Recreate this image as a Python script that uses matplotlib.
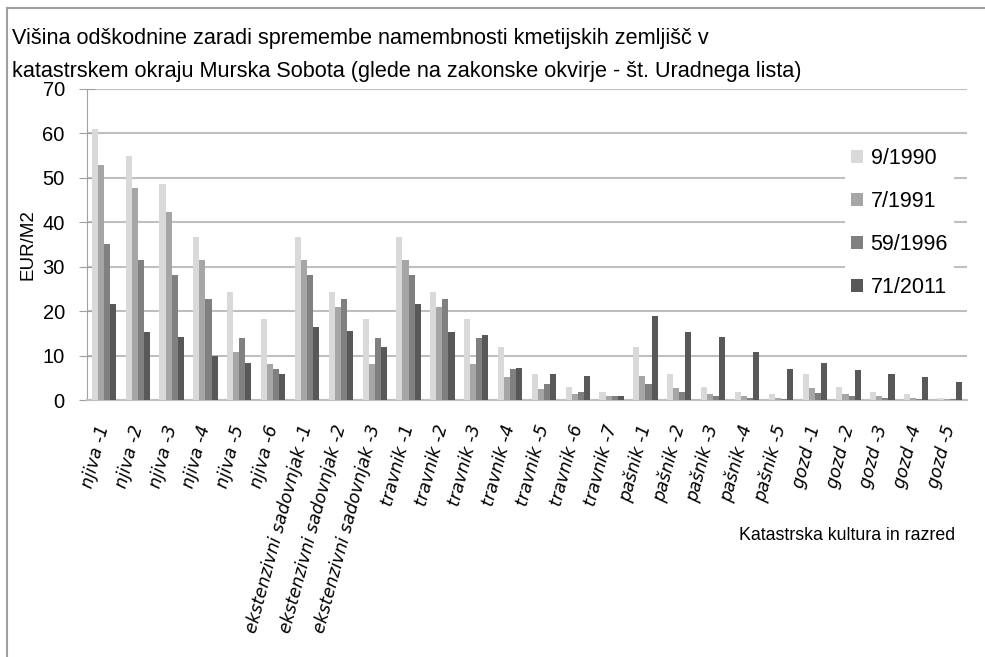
import matplotlib.pyplot as plt
import numpy as np
from matplotlib.lines import Line2D

categories = ["njiva -1", "njiva -2", "njiva -3", "njiva -4", "njiva -5", "njiva -6",
              "ekstenzivni sadovnjak -1", "ekstenzivni sadovnjak -2", "ekstenzivni sadovnjak -3",
              "travnik -1", "travnik -2", "travnik -3", "travnik -4", "travnik -5", "travnik -6",
              "travnik -7", "pašnik -1", "pašnik -2", "pašnik -3", "pašnik -4", "pašnik -5",
              "gozd -1", "gozd -2", "gozd -3", "gozd -4", "gozd -5"]
series_names = ["9/1990", "7/1991", "59/1996", "71/2011"]
s_1990 = [61.0, 54.9, 48.6, 36.6, 24.2, 18.2, 36.6, 24.3, 18.2, 36.6, 24.3, 18.2, 11.9,
          5.9, 3.0, 1.9, 12.0, 5.9, 3.0, 1.9, 1.3, 5.9, 3.0, 1.9, 1.3, 0.4]
s_1991 = [53.0, 47.7, 42.3, 31.6, 10.7, 8.0, 31.6, 21.0, 8.0, 31.6, 21.0, 8.0, 5.2,
          2.5, 1.4, 0.8, 5.3, 2.6, 1.4, 0.8, 0.4, 2.6, 1.4, 0.8, 0.4, 0.2]
s_1996 = [35.1, 31.5, 28.1, 22.7, 13.9, 6.9, 28.1, 22.7, 13.9, 28.1, 22.7, 13.9, 6.9,
          3.5, 1.7, 1.0, 3.5, 1.7, 0.9, 0.5, 0.2, 1.5, 0.9, 0.4, 0.2, 0.2]
s_2011 = [21.7, 15.2, 14.2, 9.8, 8.4, 5.8, 16.4, 15.5, 12.0, 21.6, 15.2, 14.6, 7.1,
          5.9, 5.3, 0.8, 19.0, 15.2, 14.2, 10.8, 7.0, 8.4, 6.7, 5.8, 5.1, 4.1]
colors = ["#d9d9d9", "#a6a6a6", "#808080", "#585858"]

W, H = 985, 657
fig = plt.figure(figsize=(W / 100, H / 100), dpi=100)
ax = fig.add_axes([87 / W, 1 - 400 / H, (967 - 87) / W, (400 - 89) / H])

x = np.arange(len(categories))
bw = 0.18
for i, vals in enumerate([s_1990, s_1991, s_1996, s_2011]):
    ax.bar(x + (i - 1.5) * bw, vals, width=bw, color=colors[i], label=series_names[i], zorder=3)

ax.set_xlim(-0.5, len(categories) - 0.5)
ax.set_ylim(0, 70)
ax.set_yticks(np.arange(0, 71, 10))
ax.yaxis.grid(True, color="#bfbfbf", linewidth=1.5, zorder=0)
ax.set_axisbelow(True)
for s in ["top", "right"]:
    ax.spines[s].set_visible(False)
ax.spines["left"].set_color("#a0a0a0")
ax.spines["bottom"].set_color("#bfbfbf")
ax.spines["bottom"].set_linewidth(1.5)

ax.tick_params(axis="y", direction="inout", length=12, color="#a0a0a0", labelsize=14.5, pad=10)
for lab in ax.get_yticklabels():
    lab.set_family("Liberation Sans")

ax.set_xticks(x)
ax.tick_params(axis="x", which="major", length=0, pad=18)
ax.set_xticklabels(categories, rotation=75, ha="right", va="center", rotation_mode="anchor",
                   fontsize=12.5, style="italic", family="DejaVu Sans")

ax.set_ylabel("EUR/M2", family="Liberation Sans", fontsize=13.5, labelpad=0)
ax.yaxis.set_label_coords(36 / W, 1 - 245 / H, transform=fig.transFigure)

title_font = ["Liberation Sans Narrow", "Liberation Sans"]
fig.text(12 / W, 1 - 44 / H,
         "Višina odškodnine zaradi spremembe namembnosti kmetijskih zemljišč v",
         family=title_font, fontsize=15.6, va="baseline")
fig.text(12 / W, 1 - 77 / H,
         "katastrskem okraju Murska Sobota (glede na zakonske okvirje - št. Uradnega lista)",
         family=title_font, fontsize=15.6, va="baseline")
fig.text(955 / W, 1 - 535 / H, "Katastrska kultura in razred",
         family=title_font, fontsize=12.8, ha="right", va="center")

leg = ax.legend(loc="upper left", bbox_to_anchor=(834 / W, 1 - 131 / H),
                bbox_transform=fig.transFigure, frameon=True, fancybox=False,
                edgecolor="none", facecolor="white", framealpha=1,
                prop={"family": "Liberation Sans", "size": 15.5},
                handlelength=0.55, handleheight=0.55, handletextpad=0.35,
                labelspacing=1.02, borderpad=0.3)

# outer chart border (cropped on right and bottom)
fig.add_artist(Line2D([7 / W, 7 / W], [0, 1 - 8 / H], transform=fig.transFigure,
                      color="#a0a0a0", linewidth=1.5))
fig.add_artist(Line2D([7 / W, 1], [1 - 8 / H, 1 - 8 / H], transform=fig.transFigure,
                      color="#a0a0a0", linewidth=1.5))

fig.savefig("out.png", dpi=100)
plt.close(fig)
